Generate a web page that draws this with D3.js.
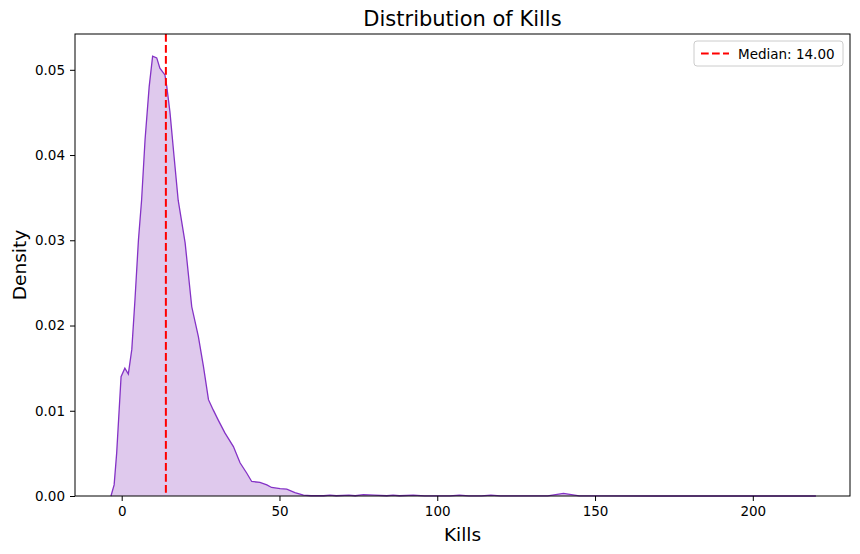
<!DOCTYPE html>
<html>
<head>
<meta charset="utf-8">
<script src="https://cdn.jsdelivr.net/npm/d3@7"></script>
<style>
  body { margin: 0; background: #fff; }
  svg { font-family: "DejaVu Sans", sans-serif; }
</style>
</head>
<body>
<div id="chart"></div>
<script>
// KDE of kills
const kills = [-3.4, -2.4, -1.6, -0.2, 1.0, 2.1, 3.2, 4.2, 5.3, 6.3, 7.4, 8.7, 9.8, 11.1, 12.1, 13.7, 14.3, 15.3, 16.6, 17.9,
    20.1, 22.2, 24.3, 25.9, 27.5, 29, 30.6, 32.7, 35.4, 37.5, 39.6, 41.2, 43.8, 46, 47.5, 50.2, 52.3, 54.9, 57.6, 60,
    64, 66, 68, 72, 74, 76.6, 80, 84, 86, 88, 92.4, 96, 104, 107, 110, 114, 117, 120, 135, 140, 145, 150, 170, 190, 220];
const density = [0, 0.0013, 0.005, 0.014, 0.015, 0.0143, 0.0172, 0.023, 0.030, 0.0347, 0.0418, 0.048, 0.0516, 0.0514, 0.0502, 0.0494, 0.048, 0.045, 0.0398, 0.0347,
    0.0297, 0.0222, 0.0187, 0.0152, 0.0113, 0.0101, 0.0089, 0.0074, 0.0058, 0.0039, 0.0027, 0.0017, 0.0016, 0.0013, 0.001, 0.00086, 0.0008, 0.0004, 0.0001, 0.00003,
    0.00003, 0.0001, 0.00003, 0.0001, 0.00003, 0.00015, 0.0001, 0.00003, 0.0001, 0.00003, 0.0001, 0.00002, 0.00002, 0.0001, 0.00002, 0.00002, 0.0001, 0.00002, 0.00002, 0.0003,
    0.00002, 0.00001, 0, 0, 0];
const median = 14;
const xTicks = [0, 50, 100, 150, 200];
const yTicks = [0, 0.01, 0.02, 0.03, 0.04, 0.05];

const width = 860, height = 554;
const margin = {top: 34, right: 10, bottom: 58, left: 75};

const svg = d3.select("#chart").append("svg")
    .attr("width", width)
    .attr("height", height);

const x = d3.scaleLinear().domain([-14.8, 230.8]).range([margin.left, width - margin.right]);
const y = d3.scaleLinear().domain([0, 0.0542]).range([height - margin.bottom, margin.top]);

const pts = kills.map((k, i) => [k, density[i]]);

svg.append("path")
    .datum(pts)
    .attr("fill", "#dfc9ed")
    .attr("d", d3.area().x(d => x(d[0])).y0(y(0)).y1(d => y(d[1])));

svg.append("path")
    .datum(pts)
    .attr("fill", "none")
    .attr("stroke", "#8432c6")
    .attr("stroke-width", 1.3)
    .attr("d", d3.line().x(d => x(d[0])).y(d => y(d[1])));

// median
svg.append("line")
    .attr("x1", x(median)).attr("x2", x(median))
    .attr("y1", margin.top).attr("y2", height - margin.bottom)
    .attr("stroke", "red")
    .attr("stroke-width", 2)
    .attr("stroke-dasharray", "7.7,3.3");

// axes
const xAxis = svg.append("g")
    .attr("transform", `translate(0,${height - margin.bottom})`)
    .call(d3.axisBottom(x).tickValues(xTicks).tickFormat(d3.format("d")).tickSize(5).tickPadding(5));
const yAxis = svg.append("g")
    .attr("transform", `translate(${margin.left},0)`)
    .call(d3.axisLeft(y).tickValues(yTicks).tickFormat(d3.format(".2f")).tickSize(5).tickPadding(5));
[xAxis, yAxis].forEach(g => {
    g.select(".domain").remove();
    g.selectAll("text").attr("font-size", 13.5).attr("fill", "#000").attr("font-family", "DejaVu Sans");
    g.selectAll("line").attr("stroke", "#000").attr("stroke-width", 1);
});

// frame
svg.append("rect")
    .attr("x", margin.left).attr("y", margin.top)
    .attr("width", width - margin.left - margin.right)
    .attr("height", height - margin.top - margin.bottom)
    .attr("fill", "none")
    .attr("stroke", "#000")
    .attr("stroke-width", 1);

svg.append("text")
    .attr("x", (margin.left + width - margin.right) / 2)
    .attr("y", 26)
    .attr("text-anchor", "middle")
    .attr("font-size", 21)
    .text("Distribution of Kills");

svg.append("text")
    .attr("x", (margin.left + width - margin.right) / 2)
    .attr("y", 541)
    .attr("text-anchor", "middle")
    .attr("font-size", 18.5)
    .text("Kills");

svg.append("text")
    .attr("transform", `translate(26,${(margin.top + height - margin.bottom) / 2}) rotate(-90)`)
    .attr("text-anchor", "middle")
    .attr("font-size", 18.5)
    .text("Density");

// legend
const lg = svg.append("g").attr("transform", "translate(694,41)");
lg.append("rect")
    .attr("width", 149).attr("height", 25)
    .attr("rx", 3)
    .attr("fill", "#fff")
    .attr("fill-opacity", 0.8)
    .attr("stroke", "#ccc");
lg.append("line")
    .attr("x1", 7).attr("x2", 35)
    .attr("y1", 12.5).attr("y2", 12.5)
    .attr("stroke", "red")
    .attr("stroke-width", 2)
    .attr("stroke-dasharray", "7.7,3.3");
lg.append("text")
    .attr("x", 44).attr("y", 17.5)
    .attr("font-size", 13.5)
    .text("Median: 14.00");
</script>
</body>
</html>
